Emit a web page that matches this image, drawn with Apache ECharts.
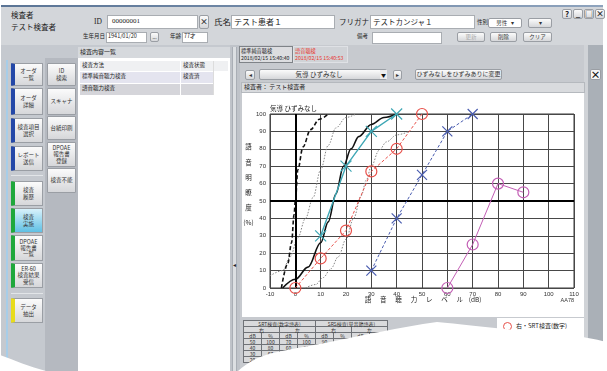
<!DOCTYPE html>
<html lang="ja">
<head>
<meta charset="utf-8">
<title>語音聴力検査</title>
<script src="https://cdn.jsdelivr.net/npm/echarts@6.0.0/dist/echarts.min.js"></script>
<style>
html,body{margin:0;padding:0;}
body{width:607px;height:371px;overflow:hidden;position:relative;background:#fff;font-family:"Noto Sans CJK JP","Noto Sans",sans-serif;color:#222;}
.a{position:absolute;box-sizing:border-box;}
.t{position:absolute;white-space:nowrap;line-height:1;}
.btn{background:linear-gradient(#fbfbfb,#d6d7da);border:1px solid #9a9ea4;border-radius:2px;display:flex;align-items:center;justify-content:center;text-align:center;line-height:1.15;color:#333;}
.inp{background:#fff;border:1px solid #a9adb2;}
#chart{position:absolute;left:242px;top:93px;width:342px;height:224px;background:#fff;}
#tbl{position:absolute;left:243px;top:320px;border-collapse:collapse;font-size:5px;color:#333;background:#d9dadc;}
#tbl td{border:1px solid #6f7277;text-align:center;padding:0;height:5px;line-height:5px;width:17px;}
#paper{position:absolute;left:0;top:0;}
</style>
</head>
<body>
<div id="ui"></div>
<div id="chart"></div>
<table id="tbl"></table>
<svg id="paper" width="607" height="371">
  <path d="M0,355 C14,360 30,367 46,371 L0,371 Z" fill="#fff"/>
  <path d="M238,371 C246,364 254,358 273,353 C290,349 310,346 330,342 C360,336 400,327 437,322 C470,325 520,331 560,334 C580,336 595,339 607,342 L607,371 Z" fill="#fff"/>
</svg>
<script>
// ---- measured values (x: 語音聴力レベル dB, y: 語音明瞭度 %) ----
const srtRight = [[0, 0], [10, 17], [20, 33], [30, 67], [40, 80], [50, 100]];   // 右・SRT (red circles)
const srtLeft  = [[30, 10], [40, 40], [50, 65], [60, 90], [70, 100]];          // 左・SRT (blue crosses)
const srsRight = [[60, 0], [70, 25], [80, 60], [90, 55]];                      // 右・SRS (magenta circles)
const srsLeft  = [[10, 30], [20, 70], [30, 90], [40, 100]];                    // 左・SRS (teal crosses)

// reference articulation curves
const refDashed = [[-5.5, 0], [-3, 14], [-1.5, 26], [-0.5, 42], [0, 50], [1, 68], [3, 81], [6, 91], [9.5, 97], [13, 100]];
const refSolid  = [[-5, 0], [0, 5], [5, 12], [10, 26], [13, 38], [16, 54], [19, 70], [22, 80], [25, 87], [30, 94], [35, 98], [40, 100]];
const refDotA   = [[-10, 7], [-5, 10], [-2, 18], [1, 29], [4, 40], [7, 52], [10, 68], [13, 82], [16, 92], [20, 98], [24, 100]];
const refDotB   = [[4, 0], [8, 2], [11, 6], [14, 11], [17, 18], [20, 28], [23, 40], [26, 53], [28, 62], [30, 70], [33, 79], [36, 84], [40, 88], [45, 90]];

const xTitleChars = ['語', '音', '聴', '力', 'レ', 'ベ', 'ル', '(dB)'];
const yTitleChars = ['語', '音', '明', '瞭', '度', '(%)'];
const chartTitle = '気導 ひずみなし';
const chartCode = 'AA78';
const legendLabel = '右・SRT検査(数字)';

// ---- window chrome ----
const ui = document.getElementById('ui');
function el(x, y, w, h, cls, html, css) {
  const d = document.createElement('div');
  d.className = 'a ' + (cls || '');
  d.style.cssText = `left:${x}px;top:${y}px;width:${w}px;height:${h}px;` + (css || '');
  if (html != null) d.innerHTML = html;
  ui.appendChild(d);
  return d;
}
function tx(x, y, s, fs, css) {
  const d = document.createElement('div');
  d.className = 't';
  d.style.cssText = `left:${x}px;top:${y - fs / 2 - 0.5}px;font-size:${fs}px;` + (css || '');
  d.textContent = s;
  ui.appendChild(d);
  return d;
}

el(1, 5, 602, 2, '', null, 'background:linear-gradient(90deg,#5a7495,#8ea3bd)');
el(1, 7, 602, 38, '', null, 'background:#d3d6da');
el(1, 45, 602, 326, '', null, 'background:#c5c9cf');

// header row 1
tx(11, 15, '検査者', 7.5);
tx(11, 27, 'テスト検査者', 7.5);
tx(94, 22, 'ID', 7.5, 'font-family:"Liberation Serif",serif');
el(107, 15, 91, 14, 'inp');
tx(112, 22, '00000001', 7, 'font-family:"Liberation Serif",serif');
el(199, 15, 10, 14, 'btn', '×', 'font-size:8px;font-weight:bold');
tx(214, 22, '氏名', 8.5);
el(231, 15, 104, 14, 'inp');
tx(234, 22, 'テスト患者１', 8);
tx(339, 22, 'フリガナ', 7.5);
el(370, 15, 105, 14, 'inp');
tx(373, 22, 'テストカンジャ１', 7.5);
tx(477, 23, '性別', 5.5);
el(488, 18, 34, 10, 'btn', '男性&nbsp;&nbsp;&nbsp;▾', 'font-size:5.5px;background:#fff');
el(528, 18, 24, 10, 'btn', '▾', 'font-size:6px');
['?', '_', '□', '×'].forEach((s, i) => el(562 + i * 11, 9, 10, 10, 'btn', s, 'font-size:8px;font-weight:bold;color:#222'));

// header row 2
tx(83, 37.5, '生年月日', 5.5);
el(106, 32, 41, 11, 'inp');
tx(108, 37.5, '1941/01/20', 5.5);
el(150, 32, 9, 10, 'btn', '...', 'font-size:5px');
tx(170, 37.5, '年齢', 5.5);
el(182, 32, 26, 11, 'inp');
tx(184, 37.5, '77才', 5.5);
tx(357, 37.5, '備考', 5.5);
el(372, 32, 70, 12, 'inp');
el(457, 32, 28, 10, 'btn', '更新', 'font-size:5.5px;color:#aaa');
el(490, 32, 27, 10, 'btn', '削除', 'font-size:5.5px');
el(523, 32, 29, 10, 'btn', 'クリア', 'font-size:5.5px');

// left navigation
el(6, 60, 1.5, 298, '', null, 'background:#a7cde8');
el(45, 58, 33, 313, '', null, 'background:#b5b9c0');
const navA = [
  ['オーダ<br>一覧', 63, 86, '#2448a8'],
  ['オーダ<br>詳細', 88, 115, '#2448a8'],
  ['検査項目<br>選択', 118, 143, '#2448a8'],
  ['レポート<br>送信', 146, 171, '#2448a8'],
  ['検査<br>履歴', 181, 206, '#1fa83c'],
  ['検査<br>実施', 208, 233, '#1fa83c', true],
  ['DPOAE<br>報告書<br>一覧', 235, 261, '#1fa83c'],
  ['ER-60<br>検査結果<br>受信', 263, 288, '#1fa83c'],
  ['データ<br>抽出', 298, 323, '#e8dc1c']
];
navA.forEach(([s, y0, y1, c, act]) => {
  el(11, y0, 32, y1 - y0, 'btn', s, `font-size:5.5px;border-left:4px solid ${c};border-radius:1px;` +
    (act ? 'background:linear-gradient(#d8f1fb,#5fc0e4);' : ''));
});
el(11, 175, 32, 1, '', null, 'background:#e2e5e8');
el(11, 293, 32, 1, '', null, 'background:#e2e5e8');
const navB = [['ID<br>検索', 63, 86], ['スキャナ', 88, 115], ['台紙印刷', 116, 140], ['DPOAE<br>報告書<br>登録', 142, 167], ['検査不能', 168, 193]];
navB.forEach(([s, y0, y1]) => el(47, y0, 29, y1 - y0, 'btn', s, 'font-size:5.5px;border-radius:1px'));

// exam list
el(78, 47, 152, 11, '', null, 'background:#d6d9dd');
tx(80, 52.5, '検査内容一覧', 6);
el(78, 58, 152, 313, '', null, 'background:#fff');
el(80, 61, 148, 10, '', null, 'background:#eff0f2');
tx(82, 66, '検査方法', 5.5);
tx(183, 66, '検査状態', 5.5);
el(80, 72, 133, 11, '', null, 'background:#e4e4ef');
tx(82, 77.5, '標準純音聴力検査', 5.5);
tx(183, 77.5, '検査済', 5.5);
el(80, 84, 133, 11, '', null, 'background:#d5d5da');
tx(82, 89.5, '語音聴力検査', 5.5);
el(180, 61, 1, 34, '', null, 'background:#fff');
el(213, 61, 1, 34, '', null, 'background:#dcdcdc');

// splitter
el(230, 45, 10, 326, '', null, 'background:#bfc3c9');
el(232, 47, 5, 324, '', null, 'background:#dcdfe2;border-left:1px solid #a9aeb5;border-right:1px solid #a9aeb5');
tx(232.5, 265, '◂', 6);

// right pane
el(240, 45, 348, 326, '', null, 'background:#c7cacf');
el(584, 45, 4, 326, '', null, 'background:#d0d3d7');
el(588, 45, 15, 326, '', null, 'background:#aab0b7');
el(239, 46, 54, 17, '', null, 'background:#dcdde0;border:1px solid #7f8388');
tx(241, 51, '標準純音聴検', 5.2);
tx(241, 58, '2018/02/15 15:40:40', 5.2);
el(293, 46, 55, 17, '', null, 'background:#d0d3d7;border:1px solid #dfe1e5');
tx(295, 51, '語音聴検', 5.2, 'color:#e8342c');
tx(295, 58, '2018/02/15 15:40:53', 5.2, 'color:#e8342c');
el(245, 70, 10, 10, 'btn', '◂', 'font-size:6px');
el(259, 69, 128, 11, 'btn', chartTitle, 'font-size:6.5px;padding-right:8px');
el(380, 70, 7, 9, '', '▼', 'font-size:5px;display:flex;align-items:center;justify-content:center;background:#eee;color:#111');
el(393, 70, 9, 10, 'btn', '▸', 'font-size:6px');
el(415, 69, 87, 11, 'btn', 'ひずみなしをひずみありに変更', 'font-size:6px');
el(590, 69, 11, 11, 'btn', '×', 'font-size:10px;font-weight:bold;background:#f6f6f6;color:#111');
el(241, 82, 344, 11, '', null, 'background:#d9dbde;border:1px solid #b5b9be');
tx(244, 87.5, '検査者：  テスト検査者', 6);

// legend box
el(497, 318, 87, 53, '', null, 'background:#fff');
el(502.5, 321.5, 9, 9, '', null, 'border:1px solid #e8504a;border-radius:50%');
tx(516, 326.5, legendLabel, 6);

// result table (rows built from the series)
(function () {
  const desc = a => a.slice().sort((p, q) => q[0] - p[0]);
  const cols = [desc(srtRight), desc(srtLeft), desc(srsRight), desc(srsLeft)];
  let h = '<tr><td colspan="4">SRT検査(数字語表)</td><td colspan="4">SRS検査(単音節語表)</td></tr>';
  h += '<tr><td colspan="2">右</td><td colspan="2">左</td><td colspan="2">右</td><td colspan="2">左</td></tr>';
  h += '<tr>' + '<td>dB</td><td>%</td>'.repeat(4) + '</tr>';
  for (let r = 0; r < 4; r++) {
    h += '<tr>' + cols.map(c => c[r] ? `<td>${c[r][0]}</td><td>${c[r][1]}</td>` : '<td></td><td></td>').join('') + '</tr>';
  }
  document.getElementById('tbl').innerHTML = h;
})();

// ---- chart ----
const NUM = '"Liberation Sans", "DejaVu Sans", sans-serif';
const JP = '"Noto Sans CJK JP", sans-serif';
const gridLine = { show: true, lineStyle: { color: '#474747', width: 1 } };
const CROSS = 'path://M0,0L10,10M10,0L0,10';

function refCurve(data, color, width, type) {
  return {
    type: 'line', data, smooth: 0.35, smoothMonotone: 'x', symbol: 'none', silent: true, z: 2,
    lineStyle: { color, width, type }
  };
}
function marked(data, symbol, size, color, lineType, width) {
  return {
    type: 'line', data, symbol, symbolSize: size, z: 5,
    lineStyle: { color, width, type: lineType },
    itemStyle: { color: 'rgba(255,255,255,0)', borderColor: color, borderWidth: 1.2 }
  };
}

const graphic = [
  { type: 'text', x: 28, y: 15.5, style: { text: chartTitle, font: `6.5px ${JP}`, fill: '#222', verticalAlign: 'middle' } },
  { type: 'text', x: 332, y: 207, style: { text: chartCode, font: `5.5px ${NUM}`, fill: '#333', align: 'right', verticalAlign: 'middle' } }
];
yTitleChars.forEach((c, i) => graphic.push({
  type: 'text', x: 6.5, y: 54 + i * 15.2,
  style: { text: c, font: `6.5px ${JP}`, fill: '#222', align: 'center', verticalAlign: 'middle' }
}));
xTitleChars.forEach((c, i) => graphic.push({
  type: 'text', x: 126 + i * 15.3, y: 206.5,
  style: { text: c, font: `6.5px ${JP}`, fill: '#222', align: 'center', verticalAlign: 'middle' }
}));

const chart = echarts.init(document.getElementById('chart'));
chart.setOption({
  animation: false,
  backgroundColor: '#fff',
  grid: { left: 28, top: 21, width: 304, height: 174, show: true, borderColor: '#3a3a3a', borderWidth: 1 },
  xAxis: {
    type: 'value', min: -10, max: 110, interval: 10,
    axisLine: { show: false }, axisTick: { show: false }, splitLine: gridLine,
    axisLabel: { fontSize: 6, color: '#333', margin: 3, fontFamily: NUM }
  },
  yAxis: {
    type: 'value', min: 0, max: 100, interval: 10,
    axisLine: { show: false }, axisTick: { show: false }, splitLine: gridLine,
    axisLabel: { fontSize: 6, color: '#333', margin: 4, fontFamily: NUM }
  },
  graphic,
  series: [
    refCurve(refDotA, '#858585', 1, [1.5, 1.5]),
    refCurve(refDotB, '#858585', 1, [1.5, 1.5]),
    refCurve(refDashed, '#111', 1.6, [4, 2.5]),
    Object.assign(refCurve(refSolid, '#111', 1.6, 'solid'), {
      markLine: {
        silent: true, symbol: 'none', label: { show: false },
        lineStyle: { color: '#000', width: 2, type: 'solid' },
        data: [{ xAxis: 0 }, { yAxis: 50 }]
      }
    }),
    marked(srsLeft, CROSS, 11, '#3ea7b5', 'solid', 1.4),
    marked(srtRight, 'circle', 11, '#e8504a', [3, 2], 1),
    marked(srtLeft, CROSS, 10, '#4a5db0', [3, 2], 1),
    marked(srsRight, 'circle', 11, '#c35fb5', 'solid', 1)
  ]
});
</script>
</body>
</html>
